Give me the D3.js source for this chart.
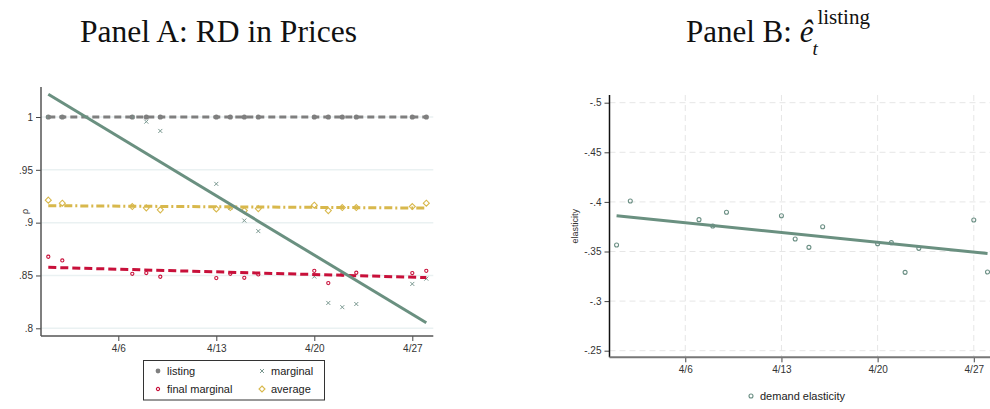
<!DOCTYPE html>
<html>
<head>
<meta charset="utf-8">
<script src="https://cdn.jsdelivr.net/npm/d3@7"></script>
<style>
  html, body { margin: 0; padding: 0; background: #fff; }
  svg { display: block; }
  .tick-label { font-family: "Liberation Sans", Arial, sans-serif; font-size: 10px; fill: #333; }
  .legend-text { font-family: "Liberation Sans", Arial, sans-serif; font-size: 11px; fill: #222; }
  .title { font-family: "Liberation Serif", "DejaVu Serif", serif; font-size: 31px; fill: #111; }
</style>
</head>
<body>
<svg id="chart" width="990" height="409"></svg>
<script>
// Trading days in April (day of month)
const days = [1, 2, 7, 8, 9, 13, 14, 15, 16, 20, 21, 22, 23, 27, 28];

// Panel A: price ratios by day
const listing = [1, 1, 1, 1, 1, 1, 1, 1, 1, 1, 1, 1, 1, 1, 1];
const marginal = [1, 1, 1, 0.9956, 0.9868, 0.9367, 0.914, 0.902, 0.892, 0.849, 0.824, 0.820, 0.823, 0.842, 0.847];
const finalMarginal = [0.8677, 0.8642, 0.8516, 0.8523, 0.8488, 0.8475, 0.8516, 0.8478, 0.851, 0.8544, 0.8428, 0.851, 0.8526, 0.8523, 0.8544];
const average = [0.9213, 0.9184, 0.9152, 0.914, 0.9121, 0.913, 0.9143, 0.9114, 0.9133, 0.9165, 0.9114, 0.9143, 0.9143, 0.9152, 0.9184];

// Panel B: estimated demand elasticity by day
const elasticity = [-0.3566, -0.4009, -0.3821, -0.3757, -0.3895, -0.3861, -0.3626, -0.3542, -0.375, -0.3579, -0.3589, -0.329, -0.3532, -0.3818, -0.3293];

// Axis ticks
const xTicks = [6, 13, 20, 27];
const xTickLabels = ["4/6", "4/13", "4/20", "4/27"];
const yTicksA = [0.8, 0.85, 0.9, 0.95, 1];
const yTickLabelsA = [".8", ".85", ".9", ".95", "1"];
const yTicksB = [-0.5, -0.45, -0.4, -0.35, -0.3, -0.25];
const yTickLabelsB = ["-.5", "-.45", "-.4", "-.35", "-.3", "-.25"];

const colors = {
  listing: "#7f7f7f",
  marginal: "#6a9080",
  marginalPt: "#7a9890",
  final: "#c8103a",
  average: "#d8b84c",
  elastic: "#6b8f84"
};

// Ordinary least squares line over the day axis
function olsFit(xs, ys) {
  const n = xs.length;
  const mx = d3.mean(xs), my = d3.mean(ys);
  let sxy = 0, sxx = 0;
  for (let i = 0; i < n; i++) {
    sxy += (xs[i] - mx) * (ys[i] - my);
    sxx += (xs[i] - mx) * (xs[i] - mx);
  }
  const b = sxy / sxx, a = my - b * mx;
  const x0 = d3.min(xs), x1 = d3.max(xs);
  return [[x0, a + b * x0], [x1, a + b * x1]];
}

const svg = d3.select("#chart");

// ---------- Panel A ----------
const gA = svg.append("g");
const xA = d3.scaleLinear().domain([0.5, 28.5]).range([41.3, 433.3]);
const yA = d3.scaleLinear().domain([0.8, 1]).range([328.3, 117]);
const plotA = { left: 41, right: 433.3, top: 87, bottom: 336 };

// horizontal grid
gA.selectAll(".gridA").data(yTicksA).enter().append("line")
  .attr("x1", plotA.left).attr("x2", plotA.right)
  .attr("y1", d => yA(d)).attr("y2", d => yA(d))
  .attr("stroke", "#eaf1f2").attr("stroke-width", 1.5);

// axes
const yAxisA = d3.axisLeft(yA).tickValues(yTicksA)
  .tickFormat((d, i) => yTickLabelsA[i]).tickSize(5).tickPadding(3);
const yAxA = gA.append("g").attr("transform", `translate(${plotA.left},0)`).call(yAxisA);
yAxA.select(".domain").remove();
gA.append("line").attr("x1", plotA.left).attr("x2", plotA.left)
  .attr("y1", plotA.top).attr("y2", plotA.bottom).attr("stroke", "#555").attr("stroke-width", 1.5);

const xAxisA = d3.axisBottom(xA).tickValues(xTicks)
  .tickFormat((d, i) => xTickLabels[i]).tickSize(5).tickPadding(4);
const xAxA = gA.append("g").attr("transform", `translate(0,${plotA.bottom})`).call(xAxisA);
xAxA.select(".domain").remove();
gA.append("line").attr("x1", plotA.left).attr("x2", plotA.right)
  .attr("y1", plotA.bottom).attr("y2", plotA.bottom).attr("stroke", "#555").attr("stroke-width", 1.5);

[yAxA, xAxA].forEach(ax => {
  ax.selectAll(".tick line").attr("stroke", "#444");
  ax.selectAll(".tick text").attr("class", "tick-label").attr("fill", "#333");
});

gA.append("text").attr("class", "tick-label")
  .attr("transform", `translate(28,${(plotA.top + plotA.bottom) / 2}) rotate(-90)`)
  .attr("text-anchor", "middle").style("font-size", "9px").text("ρ");

// markers
const ptsA = (vals) => days.map((d, i) => [d, vals[i]]);

gA.selectAll(".pListing").data(ptsA(listing)).enter().append("circle")
  .attr("cx", d => xA(d[0])).attr("cy", d => yA(d[1])).attr("r", 2.6)
  .attr("fill", colors.listing);

gA.selectAll(".pMarginal").data(ptsA(marginal)).enter().append("path")
  .attr("transform", d => `translate(${xA(d[0])},${yA(d[1])})`)
  .attr("d", "M-2,-2L2,2M-2,2L2,-2")
  .attr("stroke", colors.marginalPt).attr("stroke-width", 1).attr("fill", "none");

gA.selectAll(".pFinal").data(ptsA(finalMarginal)).enter().append("circle")
  .attr("cx", d => xA(d[0])).attr("cy", d => yA(d[1])).attr("r", 1.6)
  .attr("fill", "none").attr("stroke", colors.final).attr("stroke-width", 1.1);

gA.selectAll(".pAverage").data(ptsA(average)).enter().append("path")
  .attr("transform", d => `translate(${xA(d[0])},${yA(d[1])})`)
  .attr("d", "M0,-3L3,0L0,3L-3,0Z")
  .attr("fill", "none").attr("stroke", colors.average).attr("stroke-width", 1.1);

// fitted lines
const lineA = d3.line().x(d => xA(d[0])).y(d => yA(d[1]));
gA.append("path").attr("d", lineA(olsFit(days, listing)))
  .attr("stroke", colors.listing).attr("stroke-width", 3).attr("stroke-dasharray", "7,4").attr("fill", "none");
gA.append("path").attr("d", lineA(olsFit(days, average)))
  .attr("stroke", colors.average).attr("stroke-width", 3).attr("stroke-dasharray", "8,3,2,3").attr("fill", "none");
gA.append("path").attr("d", lineA(olsFit(days, finalMarginal)))
  .attr("stroke", colors.final).attr("stroke-width", 3).attr("stroke-dasharray", "8,4").attr("fill", "none");
gA.append("path").attr("d", lineA(olsFit(days, marginal)))
  .attr("stroke", colors.marginal).attr("stroke-width", 3).attr("fill", "none");

// legend
const legA = gA.append("g");
legA.append("rect").attr("x", 143.5).attr("y", 360.5).attr("width", 181).attr("height", 39.5)
  .attr("fill", "#fff").attr("stroke", "#333").attr("stroke-width", 1);
const legItems = [
  { label: "listing", x: 158, y: 371, type: "dot" },
  { label: "marginal", x: 262, y: 371, type: "x" },
  { label: "final marginal", x: 158, y: 389, type: "circle" },
  { label: "average", x: 262, y: 389, type: "diamond" }
];
legItems.forEach(it => {
  const g = legA.append("g").attr("transform", `translate(${it.x},${it.y})`);
  if (it.type === "dot") g.append("circle").attr("r", 2.4).attr("fill", colors.listing);
  if (it.type === "x") g.append("path").attr("d", "M-2,-2L2,2M-2,2L2,-2").attr("stroke", colors.marginalPt).attr("stroke-width", 1);
  if (it.type === "circle") g.append("circle").attr("r", 1.6).attr("fill", "none").attr("stroke", colors.final).attr("stroke-width", 1.1);
  if (it.type === "diamond") g.append("path").attr("d", "M0,-3L3,0L0,3L-3,0Z").attr("fill", "none").attr("stroke", colors.average).attr("stroke-width", 1.1);
  g.append("text").attr("class", "legend-text").attr("x", 9).attr("y", 4).text(it.label);
});

// ---------- Panel B ----------
const gB = svg.append("g");
const xB = d3.scaleLinear().domain([0.5, 28.5]).range([609.7, 994.4]);
const yB = d3.scaleLinear().domain([-0.5, -0.25]).range([102.7, 350.7]);
const plotB = { left: 609.5, right: 994.4, top: 95, bottom: 357.3 };

gB.selectAll(".gridBy").data(yTicksB).enter().append("line")
  .attr("x1", plotB.left).attr("x2", plotB.right)
  .attr("y1", d => yB(d)).attr("y2", d => yB(d))
  .attr("stroke", "#e6e6e6").attr("stroke-width", 1).attr("stroke-dasharray", "6,4");
gB.selectAll(".gridBx").data(xTicks).enter().append("line")
  .attr("x1", d => xB(d)).attr("x2", d => xB(d))
  .attr("y1", plotB.top).attr("y2", plotB.bottom)
  .attr("stroke", "#e6e6e6").attr("stroke-width", 1).attr("stroke-dasharray", "6,4");

const yAxisB = d3.axisLeft(yB).tickValues(yTicksB)
  .tickFormat((d, i) => yTickLabelsB[i]).tickSize(5).tickPadding(3);
const yAxB = gB.append("g").attr("transform", `translate(${plotB.left},0)`).call(yAxisB);
yAxB.select(".domain").remove();
gB.append("line").attr("x1", plotB.left).attr("x2", plotB.left)
  .attr("y1", plotB.top).attr("y2", plotB.bottom).attr("stroke", "#111").attr("stroke-width", 1.5);

const xAxisB = d3.axisBottom(xB).tickValues(xTicks)
  .tickFormat((d, i) => xTickLabels[i]).tickSize(5).tickPadding(4);
const xAxB = gB.append("g").attr("transform", `translate(0,${plotB.bottom})`).call(xAxisB);
xAxB.select(".domain").remove();
gB.append("line").attr("x1", plotB.left).attr("x2", plotB.right)
  .attr("y1", plotB.bottom).attr("y2", plotB.bottom).attr("stroke", "#777").attr("stroke-width", 2);

[yAxB, xAxB].forEach(ax => {
  ax.selectAll(".tick line").attr("stroke", "#444");
  ax.selectAll(".tick text").attr("class", "tick-label").attr("fill", "#333");
});

gB.append("text").attr("class", "tick-label")
  .attr("transform", `translate(578,${(plotB.top + plotB.bottom) / 2}) rotate(-90)`)
  .attr("text-anchor", "middle").style("font-size", "9px").text("elasticity");

const lineB = d3.line().x(d => xB(d[0])).y(d => yB(d[1]));
gB.append("path").attr("d", lineB(olsFit(days, elasticity)))
  .attr("stroke", colors.marginal).attr("stroke-width", 3).attr("fill", "none");

gB.selectAll(".pElastic").data(days.map((d, i) => [d, elasticity[i]])).enter().append("circle")
  .attr("cx", d => xB(d[0])).attr("cy", d => yB(d[1])).attr("r", 2)
  .attr("fill", "none").attr("stroke", colors.elastic).attr("stroke-width", 1.1);

const legB = gB.append("g").attr("transform", "translate(751,396)");
legB.append("circle").attr("r", 2).attr("fill", "none").attr("stroke", colors.elastic).attr("stroke-width", 1.1);
legB.append("text").attr("class", "legend-text").attr("x", 9).attr("y", 4).text("demand elasticity");

// ---------- Titles ----------
svg.append("text").attr("class", "title").attr("x", 80).attr("y", 42)
  .attr("textLength", 277).attr("lengthAdjust", "spacingAndGlyphs")
  .text("Panel A: RD in Prices");

const tB = svg.append("text").attr("class", "title").attr("x", 686).attr("y", 42);
tB.append("tspan").text("Panel B: ");
tB.append("tspan").style("font-style", "italic").text("ê");
const eEnd = tB.node().getComputedTextLength();
svg.append("text").attr("class", "title").attr("x", 686 + eEnd - 1).attr("y", 55)
  .style("font-style", "italic").style("font-size", "19px").text("t");
svg.append("text").attr("class", "title").attr("x", 686 + eEnd + 4).attr("y", 24)
  .style("font-size", "21px").text("listing");
</script>
</body>
</html>
